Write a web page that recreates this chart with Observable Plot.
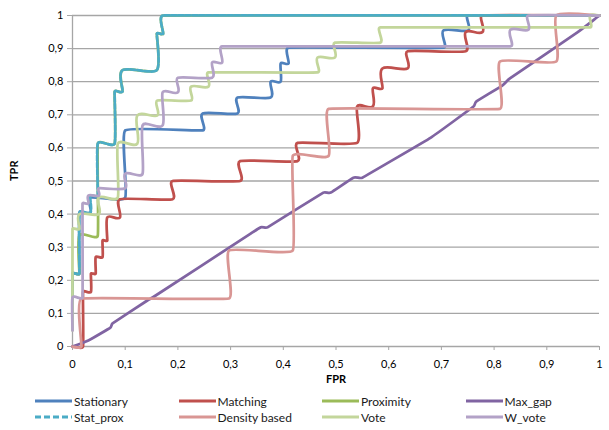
<!DOCTYPE html>
<html>
<head>
<meta charset="utf-8">
<script src="https://cdn.jsdelivr.net/npm/d3@7"></script>
<script src="https://cdn.jsdelivr.net/npm/@observablehq/plot@0.6"></script>
<style>
  html, body { margin: 0; padding: 0; background: #fff; }
  body { width: 609px; height: 430px; overflow: hidden; font-family: Lato, "Open Sans", sans-serif; }
  #legend { position: relative; width: 609px; padding-top: 0px; }
  .row { display: flex; height: 16px; align-items: center; padding-left: 35px; }
  .item { width: 147px; display: flex; align-items: center; font-size: 12px; color: #1a1a1a; white-space: nowrap; }
  .item svg { margin-right: 2px; }
</style>
</head>
<body>
<div id="chart"></div>
<div id="legend"></div>
<script>
const xTicks = [0, 0.1, 0.2, 0.3, 0.4, 0.5, 0.6, 0.7, 0.8, 0.9, 1];
const xTickLabels = ["0", "0,1", "0,2", "0,3", "0,4", "0,5", "0,6", "0,7", "0,8", "0,9", "1"];
const yTicks = [0, 0.1, 0.2, 0.3, 0.4, 0.5, 0.6, 0.7, 0.8, 0.9, 1];
const yTickLabels = ["0", "0,1", "0,2", "0,3", "0,4", "0,5", "0,6", "0,7", "0,8", "0,9", "1"];

const seriesNames = ["Stationary", "Matching", "Proximity", "Max_gap", "Stat_prox", "Density based", "Vote", "W_vote"];
const seriesColors = ["#4F81BD", "#C0504D", "#9BBB59", "#8064A2", "#4BACC6", "#D99694", "#C3D69B", "#B3A2C7"];
const seriesDashed = [false, false, false, false, true, false, false, false];

// [FPR, TPR]
const stationary = [[0,0.05],[0,0.22],[0.013,0.22],[0.013,0.405],[0.034,0.405],[0.034,0.45],[0.1,0.45],[0.1,0.653],[0.247,0.653],[0.247,0.704],[0.313,0.704],[0.313,0.752],[0.376,0.752],[0.376,0.8],[0.395,0.8],[0.395,0.855],[0.41,0.855],[0.41,0.903],[0.704,0.903],[0.704,0.955],[0.751,0.955],[0.751,1],[1,1]];
const matching = [[0,0],[0.02,0],[0.02,0.165],[0.035,0.165],[0.035,0.22],[0.044,0.22],[0.044,0.27],[0.057,0.27],[0.057,0.32],[0.066,0.32],[0.066,0.39],[0.09,0.39],[0.09,0.445],[0.19,0.445],[0.19,0.5],[0.318,0.5],[0.318,0.56],[0.427,0.56],[0.427,0.615],[0.54,0.615],[0.54,0.725],[0.57,0.725],[0.57,0.78],[0.588,0.78],[0.588,0.84],[0.636,0.84],[0.636,0.892],[0.746,0.892],[0.746,0.95],[0.778,0.95],[0.778,1],[1,1]];
const proximity = [[0,0.05],[0,0.22],[0.013,0.22],[0.013,0.335],[0.048,0.335],[0.048,0.613],[0.08,0.613],[0.08,0.77],[0.095,0.77],[0.095,0.835],[0.16,0.835],[0.16,0.945],[0.172,0.945],[0.172,1],[1,1]];
const maxGap = [[0,0],[0.03,0.018],[0.072,0.057],[0.076,0.07],[0.142,0.139],[0.152,0.148],[0.338,0.341],[0.357,0.36],[0.37,0.36],[0.476,0.465],[0.49,0.465],[0.533,0.51],[0.55,0.51],[0.68,0.631],[0.761,0.725],[0.766,0.74],[0.816,0.789],[0.83,0.81],[0.958,0.949],[1,1]];
const statProx = [[0,0.05],[0,0.22],[0.013,0.22],[0.013,0.405],[0.034,0.405],[0.034,0.455],[0.048,0.455],[0.048,0.613],[0.08,0.613],[0.08,0.77],[0.095,0.77],[0.095,0.835],[0.16,0.835],[0.16,0.945],[0.172,0.945],[0.172,1],[1,1]];
const densityBased = [[0,0],[0.017,0],[0.017,0.145],[0.297,0.145],[0.297,0.29],[0.418,0.29],[0.418,0.576],[0.486,0.576],[0.486,0.718],[0.811,0.718],[0.811,0.861],[0.918,0.861],[0.918,1],[1,1]];
const vote = [[0,0.048],[0,0.355],[0.013,0.355],[0.013,0.4],[0.05,0.4],[0.05,0.45],[0.086,0.45],[0.086,0.613],[0.123,0.613],[0.123,0.698],[0.161,0.698],[0.161,0.743],[0.225,0.743],[0.225,0.785],[0.258,0.785],[0.258,0.828],[0.465,0.828],[0.465,0.873],[0.498,0.873],[0.498,0.918],[0.584,0.918],[0.584,0.964],[0.982,0.964],[0.982,1],[1,1]];
const wVote = [[0,0.048],[0,0.148],[0.019,0.148],[0.019,0.432],[0.03,0.432],[0.03,0.456],[0.05,0.456],[0.05,0.478],[0.1,0.478],[0.1,0.522],[0.133,0.522],[0.133,0.668],[0.171,0.668],[0.171,0.768],[0.2,0.768],[0.2,0.812],[0.265,0.812],[0.265,0.858],[0.284,0.858],[0.284,0.907],[0.831,0.907],[0.831,0.957],[0.865,0.957],[0.865,1],[1,1]];

const seriesData = [stationary, matching, proximity, maxGap, statProx, densityBased, vote, wVote];

const xLab = new Map(xTicks.map((t, i) => [t, xTickLabels[i]]));
const yLab = new Map(yTicks.map((t, i) => [t, yTickLabels[i]]));

// Spreadsheet-style smoothing: Bezier segments whose handles follow the
// neighbour direction, limited by the shorter adjacent segment and a small cap.
const SMOOTH_K = 0.3;
const SMOOTH_CAP = 6;
function smoothCurve(context) {
  let pts = [];
  return {
    areaStart() {}, areaEnd() {},
    lineStart() { pts = []; },
    point(x, y) {
      x = +x; y = +y;
      const l = pts[pts.length - 1];
      if (!l || Math.abs(l[0] - x) > 1e-9 || Math.abs(l[1] - y) > 1e-9) pts.push([x, y]);
    },
    lineEnd() {
      const n = pts.length;
      if (!n) return;
      context.moveTo(pts[0][0], pts[0][1]);
      if (n === 1) return;
      const seg = [];
      for (let i = 0; i < n - 1; i++) seg.push(Math.hypot(pts[i + 1][0] - pts[i][0], pts[i + 1][1] - pts[i][1]));
      const tan = pts.map((p, i) => {
        const a = pts[Math.max(0, i - 1)], b = pts[Math.min(n - 1, i + 1)];
        const dx = b[0] - a[0], dy = b[1] - a[1];
        const len = Math.hypot(dx, dy) || 1;
        return [dx / len, dy / len];
      });
      for (let i = 0; i < n - 1; i++) {
        const p = pts[i], q = pts[i + 1];
        const d0 = Math.min(SMOOTH_CAP, SMOOTH_K * Math.min(seg[i], i > 0 ? seg[i - 1] : seg[i]));
        const d1 = Math.min(SMOOTH_CAP, SMOOTH_K * Math.min(seg[i], i < n - 2 ? seg[i + 1] : seg[i]));
        context.bezierCurveTo(
          p[0] + tan[i][0] * d0, p[1] + tan[i][1] * d0,
          q[0] - tan[i + 1][0] * d1, q[1] - tan[i + 1][1] * d1,
          q[0], q[1]
        );
      }
    }
  };
}

const lineMarks = seriesData.map((data, i) => Plot.line(data, {
  x: d => d[0],
  y: d => d[1],
  stroke: seriesColors[i],
  strokeWidth: 2.75,
  strokeDasharray: seriesDashed[i] ? "5,2" : null,
  curve: smoothCurve
}));

const chart = Plot.plot({
  width: 609,
  height: 393,
  marginLeft: 72,
  marginRight: 10,
  marginTop: 15,
  marginBottom: 47,
  x: { domain: [0, 1] },
  y: { domain: [0, 1] },
  style: { fontFamily: "Lato, 'Open Sans', sans-serif", fontSize: "11px", color: "#000", background: "#fff", overflow: "visible" },
  marks: [
    Plot.gridY(yTicks, { stroke: "#A6A6A6", strokeOpacity: 1, strokeWidth: 1.3 }),
    Plot.ruleX([0], { stroke: "#A6A6A6", strokeWidth: 1.3 }),
    Plot.axisY(yTicks, { tickSize: 5, tickPadding: 4, tickFormat: d => yLab.get(d), stroke: "#A6A6A6", fill: "#000", label: null, fontSize: 11 }),
    Plot.axisX(xTicks, { tickSize: 4, tickPadding: 10, tickFormat: d => xLab.get(d), stroke: "#A6A6A6", fill: "#000", label: null, fontSize: 11 }),
    Plot.text(["TPR"], { frameAnchor: "left", dx: -58, rotate: -90, fontWeight: "bold", fontSize: 11, fill: "#000" }),
    Plot.text(["FPR"], { frameAnchor: "bottom", dy: 36, fontWeight: "bold", fontSize: 11, fill: "#000" }),
    ...lineMarks
  ]
});
document.getElementById("chart").appendChild(chart);

// Legend
const legend = document.getElementById("legend");
for (let r = 0; r < 2; r++) {
  const row = document.createElement("div");
  row.className = "row";
  for (let c = 0; c < 4; c++) {
    const i = r * 4 + c;
    const item = document.createElement("div");
    item.className = "item";
    const dash = seriesDashed[i] ? ' stroke-dasharray="6,3"' : '';
    item.innerHTML = `<svg width="37" height="6"><line x1="0" y1="3" x2="37" y2="3" stroke="${seriesColors[i]}" stroke-width="3"${dash}/></svg><span>${seriesNames[i]}</span>`;
    row.appendChild(item);
  }
  legend.appendChild(row);
}
</script>
</body>
</html>
